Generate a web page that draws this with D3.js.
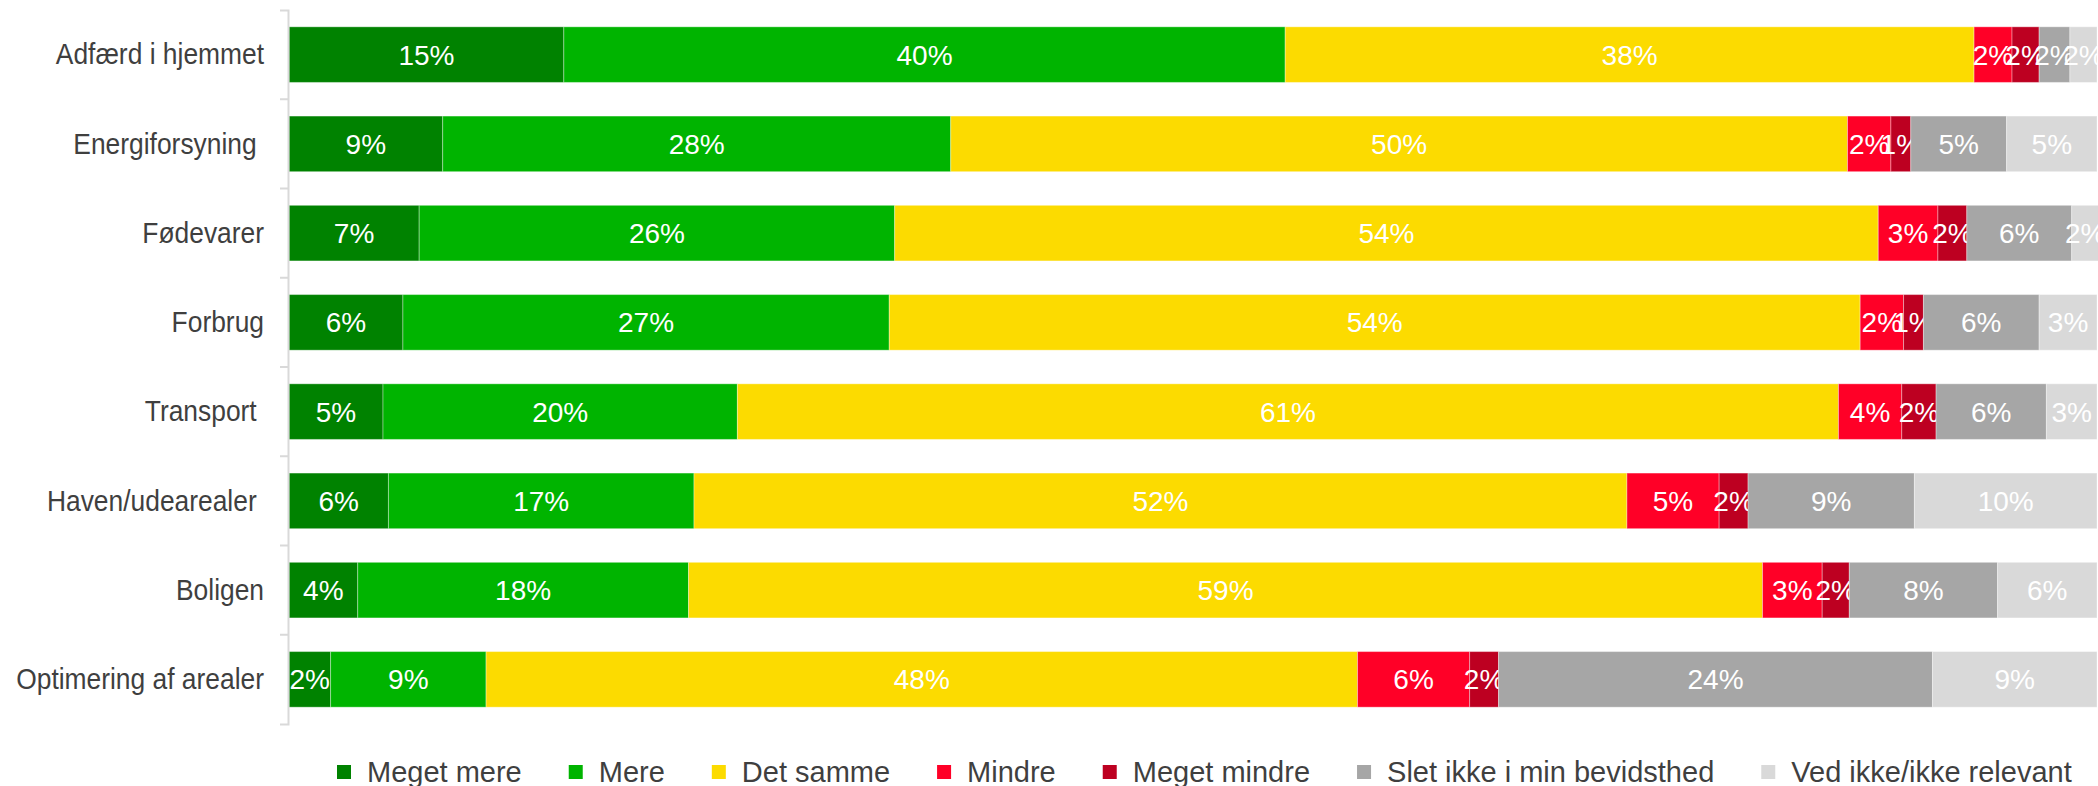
<!DOCTYPE html>
<html>
<head>
<meta charset="utf-8">
<script src="https://cdn.jsdelivr.net/npm/d3@7"></script>
<style>
  body { margin: 0; background: #fff; }
  svg { display: block; font-family: "Liberation Sans", Arial, sans-serif; }
</style>
</head>
<body>
<div id="chart"></div>
<script>
// categories (trailing spaces kept as in the source labels)
const categories = ["Adfærd i hjemmet", "Energiforsyning ", "Fødevarer", "Forbrug", "Transport ", "Haven/udearealer ", "Boligen", "Optimering af arealer"];
const seriesNames = ["Meget mere", "Mere", "Det samme", "Mindre", "Meget mindre", "Slet ikke i min bevidsthed", "Ved ikke/ikke relevant"];
const seriesColors = ["#008200", "#00b400", "#fcdb00", "#ff0027", "#bd0021", "#a6a6a6", "#d9d9d9"];

// percent values per series, one entry per category
const megetMere    = [15.2,  8.5,  7.2,  6.3,  5.2,  5.5,  3.8,  2.3];
const mere         = [39.9, 28.1, 26.3, 26.9, 19.6, 16.9, 18.3,  8.6];
const detSamme     = [38.1, 49.6, 54.4, 53.7, 60.9, 51.6, 59.4, 48.2];
const mindre       = [ 2.1,  2.4,  3.3,  2.4,  3.5,  5.1,  3.3,  6.2];
const megetMindre  = [ 1.5,  1.1,  1.6,  1.1,  1.9,  1.6,  1.5,  1.6];
const sletIkke     = [ 1.7,  5.3,  5.8,  6.4,  6.1,  9.2,  8.2, 24.0];
const vedIkke      = [ 1.5,  5.0,  1.5,  3.2,  2.8, 10.1,  5.5,  9.1];

const seriesValues = [megetMere, mere, detSamme, mindre, megetMindre, sletIkke, vedIkke];

const W = 2098, H = 786;
const svg = d3.select('#chart').append('svg').attr('width', W).attr('height', H);

const x = d3.scaleLinear().domain([0, 100]).range([289, 2097]);
const y = d3.scaleBand().domain(categories).range([10, 724]).paddingInner(0.377).paddingOuter(0.1885);

// build stacked rows
const rows = categories.map((c, i) => {
  const obj = { cat: c };
  seriesNames.forEach((s, j) => obj[s] = seriesValues[j][i]);
  return obj;
});
const stacked = d3.stack().keys(seriesNames)(rows);

const layers = svg.append('g').selectAll('g')
  .data(stacked)
  .enter().append('g')
  .attr('fill', (d, i) => seriesColors[i]);

layers.selectAll('rect')
  .data(d => d)
  .enter().append('rect')
  .attr('x', d => x(d[0]))
  .attr('y', d => y(d.data.cat))
  .attr('width', d => x(d[1]) - x(d[0]))
  .attr('height', y.bandwidth())
  .attr('stroke', 'rgba(255,255,255,0.35)')
  .attr('stroke-width', 1);

// value labels
layers.selectAll('text')
  .data(d => d)
  .enter().append('text')
  .attr('x', d => (x(d[0]) + x(d[1])) / 2)
  .attr('y', d => y(d.data.cat) + y.bandwidth() / 2)
  .attr('dy', '0.36em')
  .attr('text-anchor', 'middle')
  .attr('fill', '#fff')
  .style('font-size', '28px')
  .text(d => Math.round(d[1] - d[0]) + '%');

// y axis
const axisX = 288;
const yAxis = svg.append('g')
  .attr('transform', `translate(${axisX},0)`)
  .call(d3.axisLeft(y).tickSizeInner(0).tickSizeOuter(8).tickPadding(0));

yAxis.select('.domain').attr('stroke', '#d9d9d9').attr('stroke-width', 2);
yAxis.selectAll('.tick text')
  .attr('x', -24 / 0.91)
  .attr('dy', '0.34em')
  .attr('transform', 'scale(0.91,1)')
  .attr('fill', '#3f3f3f')
  .style('font-size', '29px')
  .style('white-space', 'pre')
  .style('font-family', '"Liberation Sans", Arial, sans-serif');

// tick marks between categories
const step = y.step();
const bounds = categories.slice(1).map(c => y(c) - step * y.paddingInner() / 2);
yAxis.selectAll('.sep')
  .data(bounds)
  .enter().append('line')
  .attr('class', 'sep')
  .attr('x1', -8).attr('x2', 0)
  .attr('y1', d => d).attr('y2', d => d)
  .attr('stroke', '#d9d9d9')
  .attr('stroke-width', 2);

// legend
const legend = svg.append('g').attr('transform', 'translate(337,0)');
let lx = 0;
seriesNames.forEach((name, i) => {
  const g = legend.append('g').attr('transform', `translate(${lx},0)`);
  g.append('rect')
    .attr('x', 0).attr('y', 765)
    .attr('width', 14).attr('height', 14)
    .attr('fill', seriesColors[i]);
  const t = g.append('text')
    .attr('x', 30).attr('y', 772)
    .attr('dy', '0.36em')
    .attr('fill', '#3f3f3f')
    .style('font-size', '29px')
    .text(name);
  lx += 30 + t.node().getComputedTextLength() + 47;
});
</script>
</body>
</html>
